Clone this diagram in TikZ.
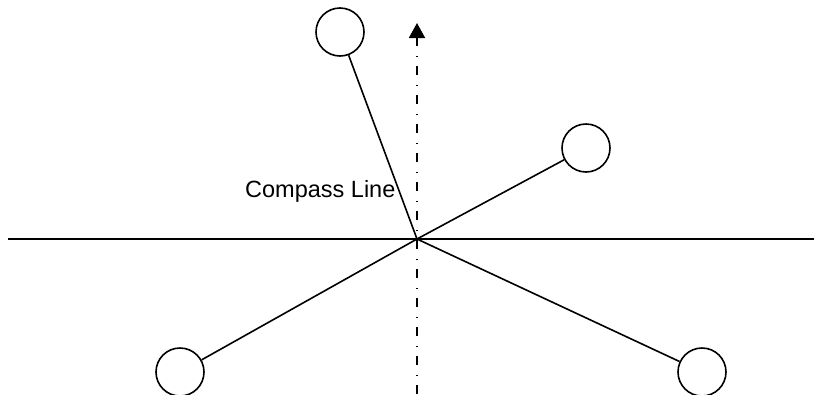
\documentclass[tikz,border=0pt]{standalone}
\usepackage{fontspec}
\setmainfont{Liberation Sans}
\usetikzlibrary{arrows.meta}
\begin{document}
\begin{tikzpicture}[x=1pt,y=-1pt,
  ball/.style={draw=black,line width=1.6pt,circle,minimum size=48pt,inner sep=0pt},
  spoke/.style={line width=1.6pt},
  axis/.style={line width=1.6pt},
  compass/.style={line width=1.8pt,dash pattern=on 9pt off 9pt on 1.5pt off 9.5pt,
     -{Triangle[width=16pt,length=15pt]}}]
\useasboundingbox (0,0) rectangle (814,394);
\coordinate (hub) at (417,239);
\coordinate (left) at (8,239);
\coordinate (right) at (814,239);
\coordinate (bottom) at (417,394);
\coordinate (top) at (417,23);
\node[ball] (tl) at (340,32) {};
\node[ball] (tr) at (586,148) {};
\node[ball] (bl) at (180,372) {};
\node[ball] (br) at (702,372) {};
\draw[axis] (left) -- (right);
\draw[compass] (bottom) -- (top);
\draw[spoke] (hub) -- (tl);
\draw[spoke] (hub) -- (tr);
\draw[spoke] (hub) -- (bl);
\draw[spoke] (hub) -- (br);
\node[anchor=base west,inner sep=0pt,font=\fontsize{23.5pt}{28pt}\selectfont] (lbl) at (245,197) {Compass Line};
\end{tikzpicture}
\end{document}
